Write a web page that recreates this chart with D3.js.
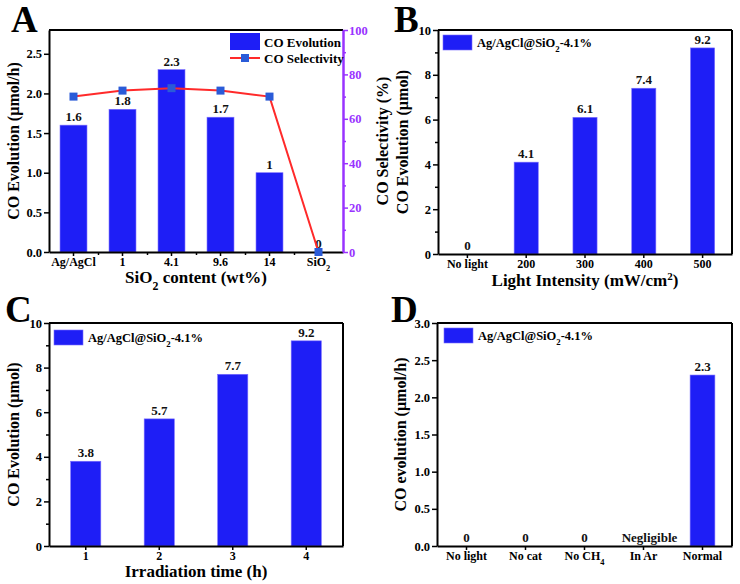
<!DOCTYPE html>
<html><head><meta charset="utf-8">
<script src="https://cdn.jsdelivr.net/npm/d3@7"></script>
<style>
html,body{margin:0;padding:0;background:#fff;}
svg{display:block;font-family:"Liberation Serif","Times New Roman",serif;font-weight:bold;}
</style></head>
<body>
<svg id="c" width="740" height="584"></svg>
<script>
// ---------- data ----------
const catsA = ["Ag/AgCl", "1", "4.1", "9.6", "14", "SiO2"];
const evoA = [1.6, 1.8, 2.3, 1.7, 1.0, 0];
const evoLabelsA = ["1.6", "1.8", "2.3", "1.7", "1", "0"];
const selA = [70, 72.7, 73.8, 72.7, 70, 0];
const ticksA = [0, 0.5, 1.0, 1.5, 2.0, 2.5];
const ticksSel = [0, 20, 40, 60, 80, 100];

const catsB = ["No light", "200", "300", "400", "500"];
const evoB = [0, 4.1, 6.1, 7.4, 9.2];
const evoLabelsB = ["0", "4.1", "6.1", "7.4", "9.2"];
const ticksB = [0, 2, 4, 6, 8, 10];

const catsC = ["1", "2", "3", "4"];
const evoC = [3.8, 5.7, 7.7, 9.2];
const evoLabelsC = ["3.8", "5.7", "7.7", "9.2"];
const ticksC = [0, 2, 4, 6, 8, 10];

const catsD = ["No light", "No cat", "No CH4", "In Ar", "Normal"];
const evoD = [0, 0, 0, 0, 2.3];
const evoLabelsD = ["0", "0", "0", "Negligible", "2.3"];
const ticksD = [0, 0.5, 1.0, 1.5, 2.0, 2.5, 3.0];

// ---------- drawing ----------
const svg = d3.select("#c");
const BLUE = "#1e1ef6", RED = "#ff2a2a", PURPLE = "#9933ff", MARK = "#2a5bd8";

function subText(sel, txt) {
  sel.text(null);
  const m = txt.match(/^(.*?)(SiO|CH)(\d)(.*)$/);
  if (!m) { sel.text(txt); return; }
  sel.append("tspan").text(m[1] + m[2]);
  sel.append("tspan").attr("baseline-shift", "sub").attr("font-size", "0.7em").text(m[3]);
  sel.append("tspan").text(m[4]);
}

function panel(o) {
  const g = svg.append("g");
  const x = d3.scaleBand().domain(o.cats).range([o.x0, o.x1]).paddingInner(0).paddingOuter(0);
  const y = d3.scaleLinear().domain([0, o.ymax]).range([o.y1, o.y0]);

  g.selectAll("rect.bar").data(o.vals).join("rect")
    .attr("x", (d, i) => x(o.cats[i]) + x.bandwidth() * (1 - o.bw) / 2)
    .attr("width", x.bandwidth() * o.bw)
    .attr("y", d => y(d))
    .attr("height", d => o.y1 - y(d))
    .attr("fill", BLUE).attr("stroke", "#7a6cff").attr("stroke-width", 0.6);

  g.selectAll("text.val").data(o.labels).join("text")
    .attr("x", (d, i) => x(o.cats[i]) + x.bandwidth() / 2 + (o.labOff ? o.labOff[i] : 0))
    .attr("y", (d, i) => y(o.vals[i]) - 4)
    .attr("text-anchor", "middle").attr("font-size", 13).attr("fill", "#111")
    .text(d => d);

  if (o.minor) {
    g.append("g").attr("transform", `translate(${o.x0},0)`)
      .call(d3.axisLeft(y).tickValues(o.minor).tickSize(3).tickFormat(""))
      .call(s => s.select(".domain").remove())
      .selectAll("line").attr("stroke", "#000").attr("stroke-width", 1.5);
  }
  const ya = g.append("g").attr("transform", `translate(${o.x0},0)`)
    .call(d3.axisLeft(y).tickValues(o.ticks).tickSize(5).tickSizeOuter(0).tickPadding(2).tickFormat(o.fmt));
  ya.selectAll("text").attr("font-size", 12.5).attr("font-family", "Liberation Serif").attr("font-weight", "bold").attr("fill", "#000");
  ya.selectAll("line").attr("stroke-width", 1.5);
  ya.select(".domain").attr("stroke-width", 2);

  if (o.xMinor) {
    g.append("g").attr("transform", `translate(0,${o.y1})`)
      .call(d3.axisBottom(d3.scaleLinear().domain([0, o.cats.length]).range([o.x0, o.x1]))
        .tickValues(d3.range(1, o.cats.length)).tickSize(3).tickFormat(""))
      .call(s => s.select(".domain").remove())
      .selectAll("line").attr("stroke-width", 1.5);
  }
  const xa = g.append("g").attr("transform", `translate(0,${o.y1})`)
    .call(d3.axisBottom(x).tickSize(4).tickSizeOuter(0).tickPadding(1));
  xa.selectAll("text").attr("font-size", 12).attr("font-family", "Liberation Serif").attr("font-weight", "bold").attr("fill", "#000")
    .each(function(d) { subText(d3.select(this), d); });
  xa.selectAll("line").attr("stroke-width", 1.5);
  xa.select(".domain").attr("stroke-width", 2);

  g.append("line").attr("x1", o.x0).attr("x2", o.x1).attr("y1", o.y0).attr("y2", o.y0)
    .attr("stroke", "#000").attr("stroke-width", 2);
  if (!o.noRight) {
    g.append("line").attr("x1", o.x1).attr("x2", o.x1).attr("y1", o.y0).attr("y2", o.y1)
      .attr("stroke", "#000").attr("stroke-width", 2);
  }

  g.append("text").attr("transform", `translate(${o.ytx},${(o.y0 + o.y1) / 2}) rotate(-90)`)
    .attr("text-anchor", "middle").attr("font-size", 16).text(o.ytitle);
  if (o.xtitle) {
    const xt = g.append("text").attr("x", (o.x0 + o.x1) / 2).attr("y", o.xty)
      .attr("text-anchor", "middle").attr("font-size", 17);
    o.xtitle(xt);
  }

  svg.append("text").attr("x", o.lx).attr("y", o.ly).attr("font-size", 37).text(o.letter);

  return { g, x, y };
}

function legendBox(g, lx, ly) {
  g.append("rect").attr("x", lx).attr("y", ly).attr("width", 29).attr("height", 15)
    .attr("fill", BLUE).attr("stroke", "#7a6cff").attr("stroke-width", 0.6);
  const t = g.append("text").attr("x", lx + 34).attr("y", ly + 12).attr("font-size", 12.5);
  t.append("tspan").text("Ag/AgCl@SiO");
  t.append("tspan").attr("baseline-shift", "sub").attr("font-size", "0.7em").text("2");
  t.append("tspan").text("-4.1%");
}

// ----- Panel A -----
const A = panel({
  cats: catsA, vals: evoA, labels: evoLabelsA, ticks: ticksA, fmt: d3.format(".1f"),
  x0: 49, x1: 343, y0: 30, y1: 252, ymax: 2.8, bw: 0.55, xMinor: true, noRight: true,
  ytitle: "CO Evolution (\u00b5mol/h)", ytx: 19, xty: 283, letter: "A", lx: 11, ly: 32,
  xtitle: t => { t.append("tspan").text("SiO"); t.append("tspan").attr("baseline-shift", "sub").attr("font-size", "0.7em").text("2");
                 t.append("tspan").text(" content (wt%)"); }
});
const yS = d3.scaleLinear().domain([0, 100]).range([252, 30]);
const ra = A.g.append("g").attr("transform", "translate(343,0)");
ra.call(d3.axisRight(yS).tickValues([10, 30, 50, 70, 90]).tickSize(3).tickFormat(""))
  .call(s => s.select(".domain").remove());
ra.selectAll("line").attr("stroke", PURPLE).attr("stroke-width", 1.5);
const ra2 = A.g.append("g").attr("transform", "translate(343,0)")
  .call(d3.axisRight(yS).tickValues(ticksSel).tickSize(5).tickSizeOuter(0).tickPadding(1));
ra2.select(".domain").attr("stroke", PURPLE).attr("stroke-width", 2.5);
ra2.selectAll("line").attr("stroke", PURPLE).attr("stroke-width", 1.5);
ra2.selectAll("text").attr("fill", PURPLE).attr("font-size", 12.5).attr("font-family", "Liberation Serif").attr("font-weight", "bold");
A.g.append("text").attr("transform", `translate(388,141) rotate(-90)`)
  .attr("text-anchor", "middle").attr("font-size", 16).text("CO Selectivity (%)");
const cx = c => A.x(c) + A.x.bandwidth() / 2;
A.g.append("path").datum(selA)
  .attr("d", d3.line().x((d, i) => cx(catsA[i])).y(d => yS(d)))
  .attr("fill", "none").attr("stroke", RED).attr("stroke-width", 2);
A.g.selectAll("rect.mk").data(selA).join("rect")
  .attr("x", (d, i) => cx(catsA[i]) - 4).attr("y", d => yS(d) - 4)
  .attr("width", 8).attr("height", 8).attr("fill", MARK);
A.g.append("rect").attr("x", 230).attr("y", 33).attr("width", 30).attr("height", 17).attr("fill", BLUE);
A.g.append("text").attr("x", 264).attr("y", 47).attr("font-size", 13).text("CO Evolution");
A.g.append("line").attr("x1", 230).attr("x2", 260).attr("y1", 58).attr("y2", 58).attr("stroke", RED).attr("stroke-width", 2);
A.g.append("rect").attr("x", 241).attr("y", 54).attr("width", 8).attr("height", 8).attr("fill", MARK);
A.g.append("text").attr("x", 264).attr("y", 63).attr("font-size", 13).text("CO Selectivity");

// ----- Panel B -----
const B = panel({
  cats: catsB, vals: evoB, labels: evoLabelsB, ticks: ticksB, fmt: d3.format("d"),
  minor: [1, 3, 5, 7, 9],
  x0: 438, x1: 732, y0: 30, y1: 254, ymax: 10, bw: 0.41,
  ytitle: "CO Evolution (\u00b5mol)", ytx: 408, xty: 286, letter: "B", lx: 394, ly: 32,
  xtitle: t => { t.append("tspan").text("Light Intensity (mW/cm"); t.append("tspan").attr("baseline-shift", "super").attr("font-size", "0.65em").text("2");
                 t.append("tspan").text(")"); }
});
legendBox(B.g, 443, 35);

// ----- Panel C -----
const C = panel({
  cats: catsC, vals: evoC, labels: evoLabelsC, ticks: ticksC, fmt: d3.format("d"),
  minor: [1, 3, 5, 7, 9],
  x0: 49, x1: 343, y0: 323, y1: 546, ymax: 10, bw: 0.41,
  ytitle: "CO Evolution (\u00b5mol)", ytx: 19, xty: 577, letter: "C", lx: 5, ly: 322,
  xtitle: t => t.text("Irradiation time (h)")
});
legendBox(C.g, 54, 330);

// ----- Panel D -----
const D = panel({
  cats: catsD, vals: evoD, labels: evoLabelsD, ticks: ticksD, fmt: d3.format(".1f"),
  labOff: [0, 0, 0, 6, 0],
  x0: 437, x1: 732, y0: 323, y1: 546, ymax: 3.0, bw: 0.42,
  ytitle: "CO evolution (\u00b5mol/h)", ytx: 406, letter: "D", lx: 391, ly: 322
});
legendBox(D.g, 444, 328);
</script>
</body></html>
